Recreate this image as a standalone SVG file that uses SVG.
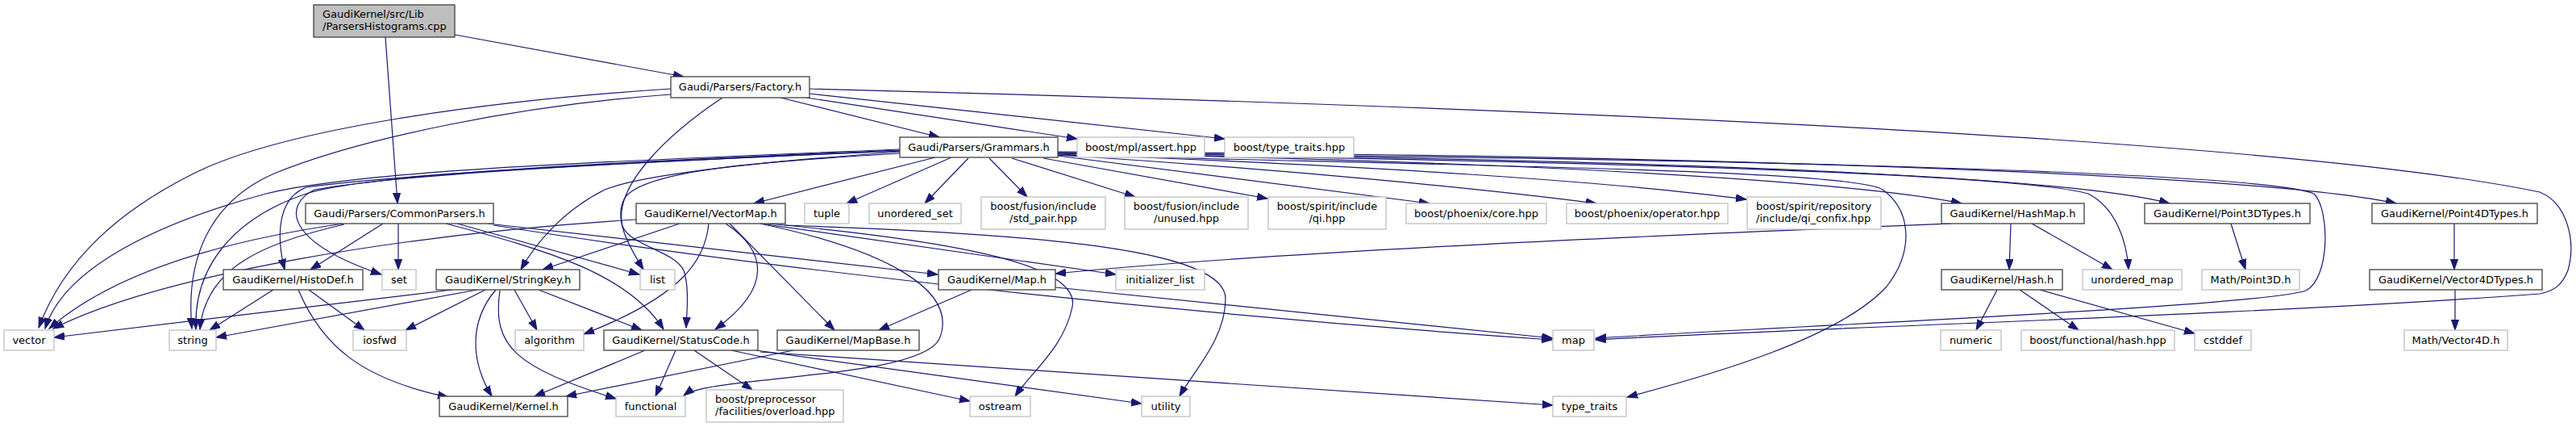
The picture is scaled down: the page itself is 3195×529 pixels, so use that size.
<svg xmlns="http://www.w3.org/2000/svg" width="3195" height="529" viewBox="0 0 3195 529">
<style>
text{font-family:"DejaVu Sans","Liberation Sans",sans-serif;font-size:13px;fill:#000}
.m{text-anchor:middle}
.n rect{fill:#fff;stroke:#404040;stroke-width:1.3}
.x rect{fill:#fff;stroke:#bfbfbf;stroke-width:1.3}
.r rect{fill:#bfbfbf;stroke:#404040;stroke-width:1.3}
#edges path{fill:none;stroke:#191970;stroke-width:1.2;marker-end:url(#ah)}
</style>
<defs>
<marker id="ah" markerWidth="14" markerHeight="11" refX="13" refY="5" orient="auto" markerUnits="userSpaceOnUse">
<path d="M0,0.4 L13,5 L0,9.6 z" fill="#191970" stroke="#191970" stroke-width="1"/>
</marker>
</defs>
<rect width="3195" height="529" fill="#fff"/>
<g id="edges">
<path d="M564,43 L848,95"/>
<path d="M478,46 L493,252"/>
<path d="M968,121 L1165,170"/>
<path d="M1000,121 L1336,172"/>
<path d="M1004,116 L1519,172"/>
<path d="M1004,110 C1700,128 2800,165 3150,238 C3185,252 3195,300 3185,335 C3178,352 3170,360 3150,364 C2800,390 2200,408 1979,421"/>
<path d="M832,110 C600,125 350,160 240,215 C150,260 80,320 48,406"/>
<path d="M832,117 C650,130 450,170 340,215 C260,250 230,320 238,407"/>
<path d="M896,121 C830,165 760,230 772,280 C782,305 835,310 848,335 C855,355 852,385 851,406"/>
<path d="M1160,195 L935,252"/>
<path d="M1180,195 L1050,252"/>
<path d="M1201,196 L1147,252"/>
<path d="M1227,196 L1274,244"/>
<path d="M1255,196 L1408,244"/>
<path d="M1294,196 L1572,246"/>
<path d="M1312,193 L1773,252"/>
<path d="M1312,192 C1600,210 1850,235 1980,252"/>
<path d="M1312,191 C1700,205 2000,225 2166,247"/>
<path d="M1312,190 C1900,200 2300,225 2433,252"/>
<path d="M1312,189 C2000,197 2550,215 2691,252"/>
<path d="M1312,188 C2100,192 2800,215 2972,252"/>
<path d="M1312,190 C2000,200 2500,215 2590,240 C2625,258 2638,300 2640,334"/>
<path d="M1312,189 C2000,195 2800,210 2870,240 C2890,260 2890,345 2860,360 C2800,380 2200,405 1979,419"/>
<path d="M1312,192 C1800,205 2300,210 2335,235 C2370,260 2375,310 2340,355 C2280,420 2120,465 2018,492"/>
<path d="M1116,188 C950,200 800,215 750,235 C700,260 665,300 646,334"/>
<path d="M1116,190 C950,200 800,210 775,245 C760,270 780,305 798,334"/>
<path d="M1116,185 C800,198 450,210 330,240 C200,275 80,330 56,407"/>
<path d="M1116,186 C800,199 450,215 380,240 C290,270 240,330 243,408"/>
<path d="M1116,187 C800,200 500,215 380,232 C345,245 342,290 353,334"/>
<path d="M1116,187 C800,200 500,215 390,235 C350,255 355,300 473,340"/>
<path d="M426,277 C300,295 150,330 61,407"/>
<path d="M427,278 C330,300 255,330 248,408"/>
<path d="M475,277 L385,334"/>
<path d="M494,277 L494,334"/>
<path d="M567,277 L793,340"/>
<path d="M605,277 L1163,340"/>
<path d="M612,279 C900,325 1400,385 1925,421"/>
<path d="M553,277 C680,310 780,340 823,408"/>
<path d="M789,272 C500,290 200,340 66,407"/>
<path d="M843,277 L673,334"/>
<path d="M879,277 C875,320 850,365 724,414"/>
<path d="M900,277 C950,310 960,355 887,408"/>
<path d="M905,277 L1035,409"/>
<path d="M943,277 C1100,310 1190,360 1165,420 C1140,470 880,465 848,490"/>
<path d="M953,277 C1200,300 1340,330 1330,380 C1320,430 1280,460 1259,491"/>
<path d="M973,279 C1300,290 1520,310 1520,370 C1520,420 1480,460 1463,491"/>
<path d="M943,277 L1384,340"/>
<path d="M2420,277 C2100,290 1600,310 1309,339"/>
<path d="M2494,277 L2492,334"/>
<path d="M2520,277 L2620,334"/>
<path d="M2477,359 L2451,409"/>
<path d="M2505,359 L2578,409"/>
<path d="M2530,359 L2722,413"/>
<path d="M2767,277 L2785,334"/>
<path d="M3044,277 L3044,334"/>
<path d="M3045,359 L3045,409"/>
<path d="M339,359 L260,409"/>
<path d="M383,359 L452,409"/>
<path d="M370,359 C400,430 450,470 556,492"/>
<path d="M561,359 L67,418"/>
<path d="M592,359 L268,418"/>
<path d="M602,359 L503,409"/>
<path d="M615,359 C580,400 585,450 610,491"/>
<path d="M620,360 C610,430 640,455 764,494"/>
<path d="M638,359 L666,409"/>
<path d="M668,359 L796,409"/>
<path d="M800,434 L663,491"/>
<path d="M838,434 L813,491"/>
<path d="M861,434 L933,483"/>
<path d="M907,434 L1203,497"/>
<path d="M938,434 L1416,500"/>
<path d="M943,436 L1926,502"/>
<path d="M984,434 L702,491"/>
<path d="M1205,359 L1090,409"/>
<path d="M1309,356 L1926,419"/>
</g>
<g id="n_root" class="r"><rect x="389" y="6" width="175" height="40"/><text x="400" y="22">GaudiKernel/src/Lib</text><text x="400" y="37">/ParsersHistograms.cpp</text></g>
<g id="n_factory" class="n"><rect x="832" y="95" width="172" height="26"/><text class="m" x="918" y="112">Gaudi/Parsers/Factory.h</text></g>
<g id="n_grammars" class="n"><rect x="1116" y="170" width="196" height="25"/><text class="m" x="1214" y="187">Gaudi/Parsers/Grammars.h</text></g>
<g id="n_assert" class="x"><rect x="1336" y="170" width="158" height="25"/><text class="m" x="1415" y="187">boost/mpl/assert.hpp</text></g>
<g id="n_btt" class="x"><rect x="1519" y="170" width="160" height="25"/><text class="m" x="1599" y="187">boost/type_traits.hpp</text></g>
<g id="n_common" class="n"><rect x="379" y="252" width="233" height="25"/><text class="m" x="495.5" y="269">Gaudi/Parsers/CommonParsers.h</text></g>
<g id="n_vectormap" class="n"><rect x="789" y="252" width="185" height="25"/><text class="m" x="881.5" y="269">GaudiKernel/VectorMap.h</text></g>
<g id="n_tuple" class="x"><rect x="998" y="252" width="55" height="25"/><text class="m" x="1025.5" y="269">tuple</text></g>
<g id="n_uset" class="x"><rect x="1078" y="252" width="114" height="25"/><text class="m" x="1135" y="269">unordered_set</text></g>
<g id="n_stdpair" class="x"><rect x="1217" y="244" width="154" height="40"/><text class="m" x="1294" y="260">boost/fusion/include</text><text class="m" x="1294" y="275">/std_pair.hpp</text></g>
<g id="n_unused" class="x"><rect x="1395" y="244" width="153" height="40"/><text class="m" x="1471.5" y="260">boost/fusion/include</text><text class="m" x="1471.5" y="275">/unused.hpp</text></g>
<g id="n_qi" class="x"><rect x="1573" y="244" width="146" height="40"/><text class="m" x="1646" y="260">boost/spirit/include</text><text class="m" x="1646" y="275">/qi.hpp</text></g>
<g id="n_core" class="x"><rect x="1744" y="252" width="174" height="25"/><text class="m" x="1831" y="269">boost/phoenix/core.hpp</text></g>
<g id="n_operator" class="x"><rect x="1943" y="252" width="200" height="25"/><text class="m" x="2043" y="269">boost/phoenix/operator.hpp</text></g>
<g id="n_confix" class="x"><rect x="2167" y="244" width="166" height="40"/><text x="2178" y="260">boost/spirit/repository</text><text x="2178" y="275">/include/qi_confix.hpp</text></g>
<g id="n_hashmap" class="n"><rect x="2408" y="252" width="177" height="25"/><text class="m" x="2496.5" y="269">GaudiKernel/HashMap.h</text></g>
<g id="n_p3d" class="n"><rect x="2660" y="252" width="205" height="25"/><text class="m" x="2762.5" y="269">GaudiKernel/Point3DTypes.h</text></g>
<g id="n_p4d" class="n"><rect x="2942" y="252" width="205" height="25"/><text class="m" x="3044.5" y="269">GaudiKernel/Point4DTypes.h</text></g>
<g id="n_histodef" class="n"><rect x="277" y="334" width="173" height="25"/><text class="m" x="363.5" y="351">GaudiKernel/HistoDef.h</text></g>
<g id="n_set" class="x"><rect x="474" y="334" width="42" height="25"/><text class="m" x="495" y="351">set</text></g>
<g id="n_stringkey" class="n"><rect x="541" y="334" width="178" height="25"/><text class="m" x="630" y="351">GaudiKernel/StringKey.h</text></g>
<g id="n_list" class="x"><rect x="794" y="334" width="43" height="25"/><text class="m" x="815.5" y="351">list</text></g>
<g id="n_maph" class="n"><rect x="1164" y="334" width="145" height="25"/><text class="m" x="1236.5" y="351">GaudiKernel/Map.h</text></g>
<g id="n_initlist" class="x"><rect x="1384" y="334" width="110" height="25"/><text class="m" x="1439" y="351">initializer_list</text></g>
<g id="n_hash" class="n"><rect x="2408" y="334" width="150" height="25"/><text class="m" x="2483" y="351">GaudiKernel/Hash.h</text></g>
<g id="n_umap" class="x"><rect x="2583" y="334" width="123" height="25"/><text class="m" x="2644.5" y="351">unordered_map</text></g>
<g id="n_mp3d" class="x"><rect x="2731" y="334" width="121" height="25"/><text class="m" x="2791.5" y="351">Math/Point3D.h</text></g>
<g id="n_v4d" class="n"><rect x="2939" y="334" width="214" height="25"/><text class="m" x="3046" y="351">GaudiKernel/Vector4DTypes.h</text></g>
<g id="n_vector" class="x"><rect x="5" y="409" width="62" height="25"/><text class="m" x="36" y="426">vector</text></g>
<g id="n_string" class="x"><rect x="210" y="409" width="58" height="25"/><text class="m" x="239" y="426">string</text></g>
<g id="n_iosfwd" class="x"><rect x="438" y="409" width="66" height="25"/><text class="m" x="471" y="426">iosfwd</text></g>
<g id="n_algorithm" class="x"><rect x="639" y="409" width="85" height="25"/><text class="m" x="681.5" y="426">algorithm</text></g>
<g id="n_statuscode" class="n"><rect x="749" y="409" width="191" height="25"/><text class="m" x="844.5" y="426">GaudiKernel/StatusCode.h</text></g>
<g id="n_mapbase" class="n"><rect x="964" y="409" width="176" height="25"/><text class="m" x="1052" y="426">GaudiKernel/MapBase.h</text></g>
<g id="n_map" class="x"><rect x="1926" y="409" width="51" height="25"/><text class="m" x="1951.5" y="426">map</text></g>
<g id="n_numeric" class="x"><rect x="2407" y="409" width="75" height="25"/><text class="m" x="2444.5" y="426">numeric</text></g>
<g id="n_bfhash" class="x"><rect x="2507" y="409" width="190" height="25"/><text class="m" x="2602" y="426">boost/functional/hash.hpp</text></g>
<g id="n_cstddef" class="x"><rect x="2722" y="409" width="70" height="25"/><text class="m" x="2757" y="426">cstddef</text></g>
<g id="n_mv4d" class="x"><rect x="2982" y="409" width="128" height="25"/><text class="m" x="3046" y="426">Math/Vector4D.h</text></g>
<g id="n_kernel" class="n"><rect x="545" y="491" width="159" height="25"/><text class="m" x="624.5" y="508">GaudiKernel/Kernel.h</text></g>
<g id="n_functional" class="x"><rect x="764" y="491" width="86" height="25"/><text class="m" x="807" y="508">functional</text></g>
<g id="n_overload" class="x"><rect x="876" y="483" width="170" height="40"/><text x="887" y="499">boost/preprocessor</text><text x="887" y="514">/facilities/overload.hpp</text></g>
<g id="n_ostream" class="x"><rect x="1203" y="491" width="75" height="25"/><text class="m" x="1240.5" y="508">ostream</text></g>
<g id="n_utility" class="x"><rect x="1416" y="491" width="60" height="25"/><text class="m" x="1446" y="508">utility</text></g>
<g id="n_typetraits" class="x"><rect x="1926" y="491" width="91" height="25"/><text class="m" x="1971.5" y="508">type_traits</text></g>
</svg>
